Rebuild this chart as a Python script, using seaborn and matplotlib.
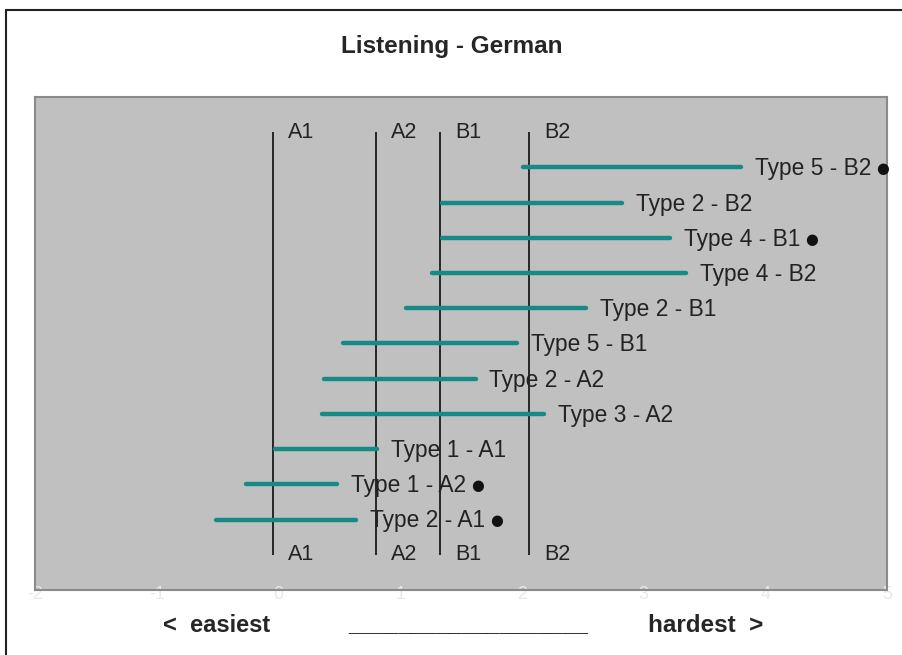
import pandas as pd
import matplotlib.pyplot as plt
import seaborn as sns
from matplotlib.patches import Rectangle

# tasks from bottom (row 1) to top (row 11)
tasks = ["Type 2 - A1", "Type 1 - A2", "Type 1 - A1", "Type 3 - A2", "Type 2 - A2",
         "Type 5 - B1", "Type 2 - B1", "Type 4 - B2", "Type 4 - B1", "Type 2 - B2",
         "Type 5 - B2"]
task_start = [-0.51, -0.27, -0.03, 0.36, 0.375, 0.53, 1.05, 1.26, 1.345, 1.345, 2.01]
task_end = [0.64, 0.48, 0.81, 2.18, 1.62, 1.96, 2.53, 3.35, 3.22, 2.82, 3.80]
flagged = [True, True, False, False, False, False, False, False, True, False, True]

levels = ["A1", "A2", "B1", "B2"]
level_pos = [-0.044, 0.80, 1.33, 2.06]

x_ticks = [-2, -1, 0, 1, 2, 3, 4, 5]

rows = list(range(1, len(tasks) + 1))
df = pd.DataFrame({
    "task": tasks * 2,
    "x": task_start + task_end,
    "row": rows * 2,
})

sns.set_style("white")
plt.rcParams["font.family"] = ["Liberation Sans", "DejaVu Sans"]

fig = plt.figure(figsize=(9.03, 6.55), dpi=100)
ax = fig.add_axes([35 / 903, 1 - 590 / 655, 852 / 903, 493 / 655])
ax.set_facecolor("#c0c0c0")

# level lines (drawn first, under the bars)
ax.vlines(level_pos, 0, 12, color="#1a1a1a", lw=1.3, zorder=1)
for name, pos in zip(levels, level_pos):
    for yy in [12, 0]:
        ax.annotate(name, (pos, yy), xytext=(11, 0), textcoords="offset points",
                    va="center", ha="left", fontsize=15.5, color="#222222")

sns.lineplot(data=df, x="x", y="row", units="task", estimator=None,
             color="#178a86", lw=3.2, solid_capstyle="round", ax=ax, zorder=2,
             legend=False)

for t, e, r, f in zip(tasks, task_end, rows, flagged):
    txt = ax.annotate(t, (e, r), xytext=(10, -1), textcoords="offset points",
                      va="center", ha="left", fontsize=16.4, color="#222222", zorder=3)
    if f:
        # the dot marking these tasks
        ax.annotate("●", xy=(1, 0.5), xycoords=txt, xytext=(3.5, 0),
                    textcoords="offset points", va="center", ha="left",
                    fontsize=10.5, family="DejaVu Sans", color="#111111", zorder=3)

ax.set_xlim(-2, 5)
ax.set_ylim(-1, 13)
ax.set_xticks(x_ticks)
ax.set_xticklabels([str(v) for v in x_ticks], color="#e8e8e8", fontsize=13)
ax.tick_params(axis="x", length=3, pad=-6, color="#909090")
ax.set_yticks([])
ax.set_xlabel("")
ax.set_ylabel("")
for s in ax.spines.values():
    s.set_color("#8a8a8a")
    s.set_linewidth(1.5)

fig.text(0.5, 1 - 47 / 655, "Listening - German", ha="center", va="center",
         fontsize=17.5, fontweight="bold")
fig.text(163 / 903, 1 - 625 / 655, "<  easiest", ha="left", va="center",
         fontsize=17, fontweight="bold")
fig.text(468 / 903, 1 - 625 / 655, "___________________", ha="center", va="center",
         fontsize=16.4, fontweight="bold")
fig.text(763 / 903, 1 - 625 / 655, "hardest  >", ha="right", va="center",
         fontsize=17.5, fontweight="bold")

# chart area border
fig.patches.append(Rectangle((6 / 903, -0.05), 1.2, 1 - 10 / 655 + 0.05,
                             transform=fig.transFigure, fill=False,
                             edgecolor="#222222", lw=1.5))

fig.savefig("out.png", dpi=100)
